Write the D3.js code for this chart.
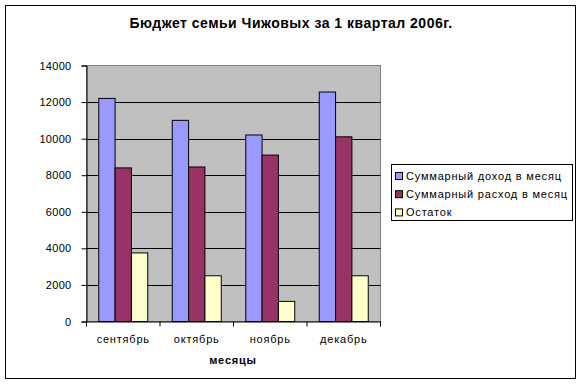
<!DOCTYPE html>
<html>
<head>
<meta charset="utf-8">
<script src="https://cdn.jsdelivr.net/npm/d3@7"></script>
<style>
  body { margin: 0; background: #fff; }
  text { font-family: "Liberation Sans", Arial, sans-serif; }
</style>
</head>
<body>
<div id="chart"></div>
<script>
var months = ['сентябрь', 'октябрь', 'ноябрь', 'декабрь'];
var seriesNames = ['Суммарный доход в месяц', 'Суммарный расход в месяц', 'Остаток'];
var income = [12200, 11000, 10200, 12550];
var expense = [8400, 8450, 9100, 10100];
var rest = [3750, 2500, 1100, 2500];
var yTicks = [0, 2000, 4000, 6000, 8000, 10000, 12000, 14000];

var colors = ['#9999FF', '#993366', '#FFFFCC'];
var values = [income, expense, rest];

var W = 583, H = 385;
var plot = { left: 86.5, top: 65.5, right: 380.5, bottom: 321.5 };

var svg = d3.select('#chart').append('svg')
  .attr('width', W)
  .attr('height', H);

// chart frame
svg.append('rect')
  .attr('x', 5.5).attr('y', 5.5)
  .attr('width', 570).attr('height', 373)
  .attr('fill', '#fff').attr('stroke', '#000');

svg.append('text')
  .attr('x', 291).attr('y', 28)
  .attr('text-anchor', 'middle')
  .attr('font-size', 14).attr('font-weight', 'bold')
  .attr('letter-spacing', 0.5)
  .text('Бюджет семьи Чижовых за 1 квартал 2006г.');

var y = d3.scaleLinear().domain([0, 14000]).range([plot.bottom, plot.top]);
var x0 = d3.scaleBand().domain(months).range([plot.left, plot.right]).padding(0);
var bw = x0.bandwidth() / 4.5;
var x1 = d3.scaleBand().domain(d3.range(3))
  .range([bw * 0.75, bw * 3.75]).padding(0);

// plot background
svg.append('rect')
  .attr('x', plot.left).attr('y', plot.top)
  .attr('width', plot.right - plot.left).attr('height', plot.bottom - plot.top)
  .attr('fill', '#C0C0C0').attr('stroke', '#808080');

// gridlines
svg.append('g').selectAll('line')
  .data(yTicks.slice(1, -1))
  .enter().append('line')
  .attr('x1', plot.left).attr('x2', plot.right)
  .attr('y1', d => Math.round(y(d)) + 0.5).attr('y2', d => Math.round(y(d)) + 0.5)
  .attr('stroke', '#000');

// bars
var groups = svg.append('g').selectAll('g')
  .data(months)
  .enter().append('g')
  .attr('transform', d => 'translate(' + x0(d) + ',0)');

groups.selectAll('rect')
  .data((m, i) => values.map((s, k) => ({ k: k, v: s[i] })))
  .enter().append('rect')
  .attr('x', d => x1(d.k))
  .attr('y', d => y(d.v))
  .attr('width', x1.bandwidth())
  .attr('height', d => plot.bottom - y(d.v))
  .attr('fill', d => colors[d.k])
  .attr('stroke', '#000');

// y axis
var yAxis = svg.append('g')
  .attr('transform', 'translate(' + plot.left + ',0)')
  .call(d3.axisLeft(y).tickValues(yTicks).tickSize(5).tickPadding(10).tickFormat(d3.format('d')));
yAxis.select('.domain').attr('stroke', '#000');
yAxis.selectAll('text').attr('font-size', 11).attr('fill', '#000')
  .attr('letter-spacing', 0.3)
  .style('font-family', '"Liberation Sans", Arial, sans-serif');

// x axis
var xAxis = svg.append('g')
  .attr('transform', 'translate(0,' + plot.bottom + ')')
  .call(d3.axisBottom(x0).tickSize(0).tickPadding(14));
xAxis.select('.domain').attr('stroke', '#000');
xAxis.selectAll('text').attr('font-size', 11).attr('fill', '#000')
  .attr('letter-spacing', 0.8)
  .style('font-family', '"Liberation Sans", Arial, sans-serif');
xAxis.selectAll('.sep')
  .data(d3.range(5))
  .enter().append('line')
  .attr('class', 'sep')
  .attr('x1', i => plot.left + i * x0.bandwidth())
  .attr('x2', i => plot.left + i * x0.bandwidth())
  .attr('y1', 0).attr('y2', 5)
  .attr('stroke', '#000');

// axis titles
svg.append('text')
  .attr('x', 233).attr('y', 364)
  .attr('text-anchor', 'middle')
  .attr('font-size', 11).attr('font-weight', 'bold')
  .attr('letter-spacing', 0.8)
  .text('месяцы');

svg.append('defs').append('clipPath').attr('id', 'ylab')
  .append('rect').attr('x', 0).attr('y', 118).attr('width', 60).attr('height', 200);

svg.append('text')
  .attr('clip-path', 'url(#ylab)')
  .attr('transform', 'translate(31,263) rotate(-90)')
  .attr('text-anchor', 'start')
  .attr('font-size', 10).attr('font-weight', 'bold')
  .text('итоговые суммы в рублях');

// legend
var legend = svg.append('g');
legend.append('rect')
  .attr('x', 391.5).attr('y', 164.5)
  .attr('width', 181).attr('height', 56)
  .attr('fill', '#fff').attr('stroke', '#000');

var items = legend.selectAll('.item')
  .data(seriesNames)
  .enter().append('g')
  .attr('class', 'item')
  .attr('transform', (d, i) => 'translate(0,' + (176 + i * 18.2) + ')');

items.append('rect')
  .attr('x', 395.5).attr('y', -3.5)
  .attr('width', 7).attr('height', 7)
  .attr('fill', (d, i) => colors[i]).attr('stroke', '#000');

items.append('text')
  .attr('x', 406).attr('y', 4)
  .attr('font-size', 11)
  .attr('letter-spacing', 0.8)
  .text(d => d);
</script>
</body>
</html>
